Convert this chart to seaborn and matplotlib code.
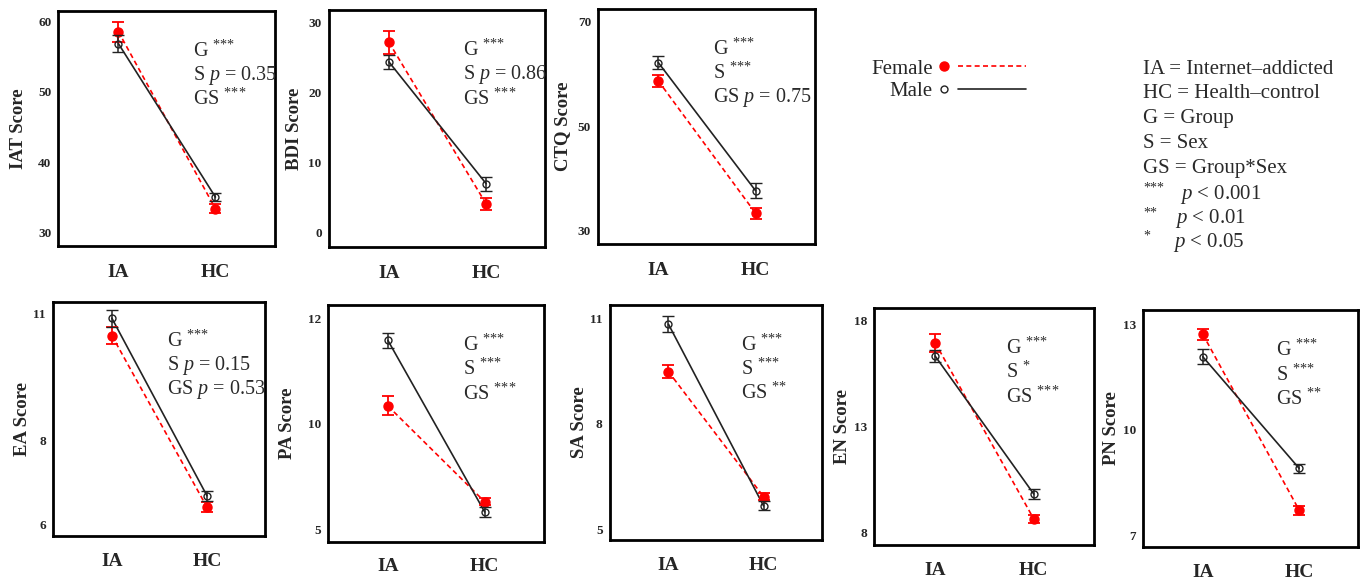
import numpy as np
import pandas as pd
import seaborn as sns
import matplotlib
matplotlib.use("Agg")
import matplotlib.pyplot as plt
from matplotlib.lines import Line2D
from matplotlib.legend_handler import HandlerBase

# data (means +/- SE)
scales = ["IAT", "BDI", "CTQ", "EA", "PA", "SA", "EN", "PN"]
groups = ["IA", "HC"]
female_ia = [58.5, 27.2, 58.7, 10.47, 10.34, 9.48, 16.96, 12.72]
female_hc = [33.4, 4.1, 33.4, 6.42, 6.32, 5.92, 8.63, 7.71]
male_ia = [56.8, 24.4, 62.2, 10.88, 11.58, 10.83, 16.33, 12.08]
male_hc = [35.05, 7.0, 37.7, 6.69, 5.84, 5.66, 9.81, 8.90]
female_se_ia = [1.42, 1.62, 1.2, 0.20, 0.18, 0.19, 0.42, 0.16]
female_se_hc = [0.66, 0.83, 1.05, 0.11, 0.16, 0.10, 0.20, 0.13]
male_se_ia = [1.18, 1.02, 1.2, 0.20, 0.15, 0.23, 0.29, 0.22]
male_se_hc = [0.59, 1.02, 1.4, 0.12, 0.24, 0.13, 0.23, 0.12]

y_ticks = [[30, 40, 50, 60], [0, 10, 20, 30], [30, 50, 70], [6, 8, 11],
           [5, 10, 12], [5, 8, 11], [8, 13, 18], [7, 10, 13]]

effect_g = ["***"] * 8
effect_s = ["p = 0.35", "p = 0.86", "***", "p = 0.15", "***", "***", "*", "***"]
effect_gs = ["***", "***", "p = 0.75", "p = 0.53", "***", "**", "***", "**"]

key_lines = ["IA = Internet\u2013addicted", "HC = Health\u2013control",
             "G = Group", "S = Sex", "GS = Group*Sex"]
key_stars = ["***", "**", "*"]
key_p = ["< 0.001", "< 0.01", "< 0.05"]

# layout
y_limits = [(28.12, 61.42), (-2.0, 31.81), (27.51, 72.43), (5.74, 11.27),
            (4.43, 12.25), (4.69, 11.38), (7.4, 18.6), (6.66, 13.41)]
even_ticks = [False, False, False, False, True, False, False, False]
panel_rect = [
    [0.0427, 0.5766, 0.1588, 0.4045],
    [0.2411, 0.5754, 0.1591, 0.4074],
    [0.4387, 0.5800, 0.1592, 0.4045],
    [0.0388, 0.0775, 0.1556, 0.4033],
    [0.2406, 0.0676, 0.1583, 0.4074],
    [0.4472, 0.0706, 0.1556, 0.4045],
    [0.6412, 0.0620, 0.1614, 0.4079],
    [0.8386, 0.0585, 0.1577, 0.4079],
]
ann_x = [0.624, 0.62, 0.53, 0.54, 0.624, 0.62, 0.60, 0.62]
ylabel_off = [41, 36, 37, 32, 42, 32, 33, 33]  # px from left spine to label centre

RED = "#ff0000"
DARK = "#222222"
TXT = "#2a2a2a"
FIG_W = 1363

sns.set_style("white")
plt.rcParams["font.family"] = ["Liberation Serif", "DejaVu Serif"]
plt.rcParams["mathtext.fontset"] = "custom"
plt.rcParams["mathtext.rm"] = "Liberation Serif"
plt.rcParams["mathtext.it"] = "Liberation Serif:italic"
plt.rcParams["mathtext.bf"] = "Liberation Serif:bold"


def tick_scale(ticks):
    # piecewise linear: ticks equally spaced on the axis
    t = np.array(sorted(ticks), dtype=float)
    idx = np.arange(len(t), dtype=float)

    def fwd(v):
        v = np.asarray(v, dtype=float)
        out = np.interp(v, t, idx)
        out = np.where(v < t[0], (v - t[0]) / (t[1] - t[0]), out)
        out = np.where(v > t[-1], idx[-1] + (v - t[-1]) / (t[-1] - t[-2]), out)
        return out

    def inv(u):
        u = np.asarray(u, dtype=float)
        out = np.interp(u, idx, t)
        out = np.where(u < 0, t[0] + u * (t[1] - t[0]), out)
        out = np.where(u > idx[-1], t[-1] + (u - idx[-1]) * (t[-1] - t[-2]), out)
        return out

    return fwd, inv


def stars_tex(s):
    return "$^{" + "".join("{*}" for _ in s) + "}$"


def fmt_effect(prefix, val):
    if val.startswith("p"):
        return prefix + " $p$" + val[1:]
    return prefix + " " + stars_tex(val)


class DotThenLine(HandlerBase):
    def create_artists(self, legend, orig_handle, xdescent, ydescent,
                       width, height, fontsize, trans):
        y = height / 2 - ydescent
        x0 = -xdescent
        dot = Line2D([x0 + 4], [y])
        dot.update_from(orig_handle)
        dot.set_linestyle("none")
        dot.set_transform(trans)
        seg = Line2D([x0 + 14, x0 + width], [y, y])
        seg.update_from(orig_handle)
        seg.set_marker("")
        seg.set_transform(trans)
        return [dot, seg]


fig = plt.figure(figsize=(13.63, 5.81), dpi=100)

for i, name in enumerate(scales):
    ax = fig.add_axes(panel_rect[i])
    df = pd.DataFrame({
        "Group": groups * 2,
        "Sex": ["Female", "Female", "Male", "Male"],
        "Score": [female_ia[i], female_hc[i], male_ia[i], male_hc[i]],
        "SE": [female_se_ia[i], female_se_hc[i], male_se_ia[i], male_se_hc[i]],
    })
    if even_ticks[i]:
        ax.set_yscale("function", functions=tick_scale(y_ticks[i]))

    sns.lineplot(data=df, x="Group", y="Score", hue="Sex", style="Sex",
                 palette={"Female": RED, "Male": DARK},
                 dashes={"Female": (3, 2), "Male": ""},
                 linewidth=1.2, legend=False, sort=False, ax=ax)

    fem = df[df["Sex"] == "Female"]
    mal = df[df["Sex"] == "Male"]
    ax.errorbar(fem["Group"], fem["Score"], yerr=fem["SE"], fmt="o",
                color=RED, markersize=6.5, elinewidth=1.3, capsize=4.3,
                capthick=1.3, zorder=4)
    ax.errorbar(mal["Group"], mal["Score"], yerr=mal["SE"], fmt="o",
                color=DARK, mfc="none", mec=DARK, markersize=5, mew=1.0,
                elinewidth=1.1, capsize=4.3, capthick=1.1, zorder=5)

    ax.set_xlim(-0.62, 1.61)
    ax.set_ylim(*y_limits[i])
    ax.set_yticks(y_ticks[i])
    ax.set_yticklabels([str(v) for v in y_ticks[i]])
    ax.minorticks_off()
    ax.tick_params(axis="y", direction="in", length=8.5, width=1.3,
                   labelsize=9.5, pad=5)
    for lab in ax.get_yticklabels():
        lab.set_fontweight("bold")
    ax.tick_params(axis="x", length=0, pad=13 if i < 3 else 12, labelsize=14)
    for lab in ax.get_xticklabels():
        lab.set_fontweight("bold")
    ax.set_xlabel("")
    ax.set_ylabel(f"{name} Score", fontsize=13.5, fontweight="bold")
    width_px = panel_rect[i][2] * FIG_W
    ax.yaxis.set_label_coords(-(ylabel_off[i] - 10) / width_px, 0.5)
    for sp in ax.spines.values():
        sp.set_visible(True)
        sp.set_linewidth(2.0)
        sp.set_color("black")

    for k, (pre, val) in enumerate(zip(["G", "S", "GS"],
                                       [effect_g[i], effect_s[i], effect_gs[i]])):
        ax.text(ann_x[i], 0.83 - 0.103 * k, fmt_effect(pre, val),
                transform=ax.transAxes, fontsize=14.5, ha="left", va="center",
                color=TXT, clip_on=False)

# legend
handles = [
    Line2D([], [], color=RED, linestyle=(0, (3, 2)), linewidth=1.2,
           marker="o", markersize=6.5, mfc=RED, mec=RED),
    Line2D([], [], color=DARK, linestyle="-", linewidth=1.2,
           marker="o", markersize=5, mfc="none", mec=DARK, mew=1.0),
]
fig.legend(handles, ["Female", "Male"], handler_map={Line2D: DotThenLine()},
           loc="upper left", bbox_to_anchor=(871 / FIG_W, 1 - 59 / 581),
           frameon=False, markerfirst=False, fontsize=15, handlelength=4.2,
           handletextpad=0.3, labelspacing=0.15, borderpad=0, borderaxespad=0)

# key text
x0 = 1143 / FIG_W
line_y = [69, 94, 119, 144, 169, 194, 219, 242]
for k, txt in enumerate(key_lines):
    fig.text(x0, 1 - line_y[k] / 581, txt, fontsize=15, ha="left",
             va="center", color=TXT)
p_x = [1180, 1175, 1173]
for k, (st, pv) in enumerate(zip(key_stars, key_p)):
    y = 1 - line_y[5 + k] / 581
    fig.text(x0, y + 6 / 581, st, fontsize=10, ha="left", va="center",
             color=TXT)
    fig.text(p_x[k] / FIG_W, y, "$p$ " + pv, fontsize=15, ha="left",
             va="center", color=TXT)

fig.savefig("out.png", dpi=100)
